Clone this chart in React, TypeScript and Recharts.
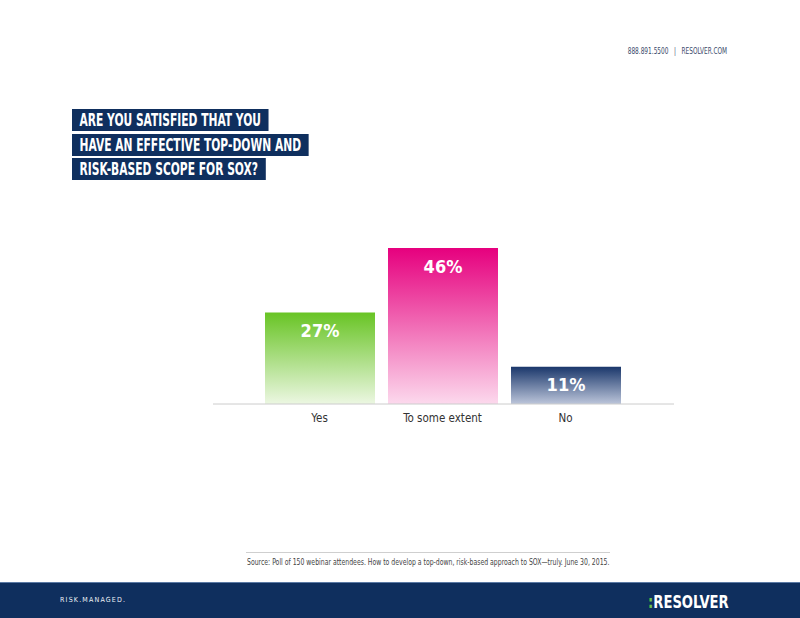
import { BarChart, Bar, XAxis, YAxis, Cell, LabelList } from "recharts";

const categories = ["Yes", "To some extent", "No"];
const values = [27, 46, 11];
const labels = ["27%", "46%", "11%"];
const gradients = [
  { id: "gYes", top: "#68c424", bottom: "#ecf7e2" },
  { id: "gSome", top: "#e6007e", bottom: "#fcd9ed" },
  { id: "gNo", top: "#1a376b", bottom: "#bcc5da" },
];
const titleLines = [
  "ARE YOU SATISFIED THAT YOU",
  "HAVE AN EFFECTIVE TOP-DOWN AND",
  "RISK-BASED SCOPE FOR SOX?",
];

const data = categories.map((name, i) => ({ name, value: values[i], label: labels[i] }));

const NAVY = "#0f2f5e";
const condensed = "'Liberation Sans Narrow', 'DejaVu Sans Condensed', 'Roboto', sans-serif";

const App = () => {
  return (
    <div
      style={{
        position: "absolute",
        left: 0,
        top: 0,
        width: 800,
        height: 618,
        background: "#fff",
        overflow: "hidden",
        fontFamily: condensed,
      }}
    >
      <div
        style={{
          position: "absolute",
          right: 73,
          top: 46,
          fontSize: 9,
          color: "#3a4a6b",
          whiteSpace: "nowrap",
          transform: "scaleX(0.72)",
          transformOrigin: "right center",
        }}
      >
        888.891.5500&nbsp;&nbsp;&nbsp;|&nbsp;&nbsp;&nbsp;RESOLVER.COM
      </div>

      <div
        style={{
          position: "absolute",
          left: 72,
          top: 109,
          transform: "scaleX(0.68)",
          transformOrigin: "left top",
          whiteSpace: "nowrap",
        }}
      >
        {titleLines.map((t) => (
          <div key={t} style={{ marginBottom: 2.5, height: 22 }}>
            <span
              style={{
                display: "inline-block",
                background: NAVY,
                color: "#fff",
                fontWeight: 700,
                fontSize: 17.5,
                lineHeight: "22px",
                padding: "0 11px",
              }}
            >
              {t}
            </span>
          </div>
        ))}
      </div>

      <div style={{ position: "absolute", left: 213, top: 200 }}>
        <BarChart width={461} height={240} data={data} margin={{ top: 48, right: 0, left: 0, bottom: 6 }}>
          <defs>
            {gradients.map((g) => (
              <linearGradient key={g.id} id={g.id} x1="0" y1="0" x2="0" y2="1">
                <stop offset="0%" stopColor={g.top} />
                <stop offset="100%" stopColor={g.bottom} />
              </linearGradient>
            ))}
          </defs>
          <XAxis
            dataKey="name"
            height={30}
            axisLine={{ stroke: "#cccccc" }}
            tickLine={false}
            tickMargin={4}
            padding={{ left: 45, right: 47 }}
            tick={{ fontSize: 11.5, fill: "#333", fontFamily: condensed }}
          />
          <YAxis hide domain={[0, 46]} />
          <Bar dataKey="value" barSize={110} isAnimationActive={false}>
            {data.map((d, i) => (
              <Cell key={d.name} fill={`url(#${gradients[i].id})`} />
            ))}
            <LabelList
              dataKey="label"
              position="insideTop"
              offset={12}
              style={{ fill: "#fff", fontSize: 18, fontWeight: 700, fontFamily: condensed }}
            />
          </Bar>
        </BarChart>
      </div>

      <div
        style={{
          position: "absolute",
          left: 246,
          top: 552,
          width: 364,
          borderTop: "1px solid #cfcfcf",
        }}
      />
      <div
        style={{
          position: "absolute",
          left: 247,
          top: 558,
          fontSize: 8,
          color: "#444",
          whiteSpace: "nowrap",
          transform: "scaleX(0.855)",
          transformOrigin: "left top",
        }}
      >
        Source: Poll of 150 webinar attendees. How to develop a top-down, risk-based approach to SOX—truly. June 30, 2015.
      </div>

      <div
        style={{
          position: "absolute",
          left: 0,
          top: 582,
          width: 800,
          height: 36,
          background: NAVY,
          borderTop: "1px solid #5b7aa5",
        }}
      >
        <div
          style={{
            position: "absolute",
            left: 60,
            top: 13,
            fontSize: 7,
            letterSpacing: 1.2,
            color: "#eef1f6",
            whiteSpace: "nowrap",
          }}
        >
          RISK.MANAGED.
        </div>
        <div
          style={{
            position: "absolute",
            left: 648,
            top: 9,
            fontSize: 17,
            fontWeight: 700,
            color: "#fff",
            whiteSpace: "nowrap",
            transform: "scaleX(0.86)",
            transformOrigin: "left top",
          }}
        >
          <span style={{ color: "#6cc24a" }}>:</span>RESOLVER
        </div>
      </div>
    </div>
  );
};

export default App;
